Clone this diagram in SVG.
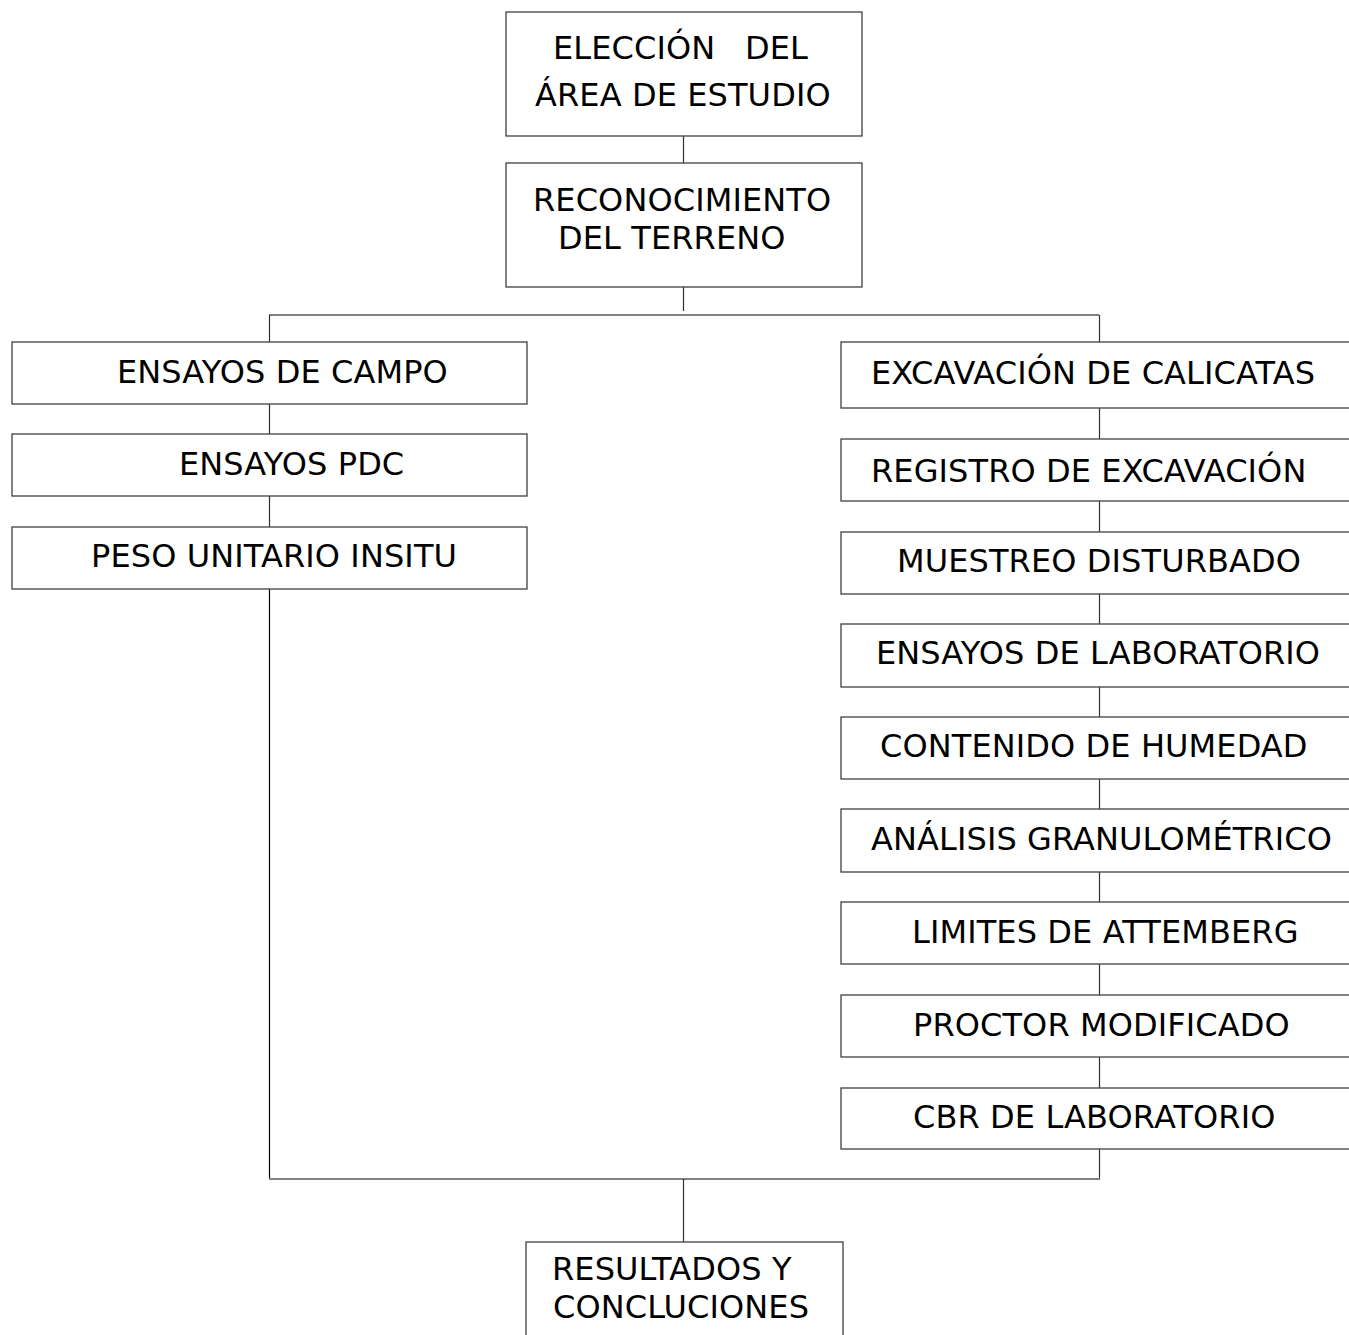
<svg xmlns="http://www.w3.org/2000/svg" width="1349" height="1335" viewBox="0 0 1349 1335">
<style>
.box{fill:#fff;stroke:#404040;stroke-width:1.3}
.t{font-family:"DejaVu Sans","Verdana",sans-serif;font-size:32px;letter-spacing:0.1px;fill:#000}
.v{stroke:#303030;stroke-width:1.2;fill:none}
.h{stroke:#808080;stroke-width:2;fill:none}
</style>
<rect width="1349" height="1335" fill="#fff"/>
<g id="connectors">
<line class="v" x1="683.5" y1="136" x2="683.5" y2="163"/>
<line class="v" x1="683.5" y1="287" x2="683.5" y2="311"/>
<line class="h" x1="269" y1="315" x2="1099" y2="315"/>
<line class="v" x1="269.5" y1="315" x2="269.5" y2="342"/>
<line class="v" x1="1099.5" y1="315" x2="1099.5" y2="342"/>
<line class="v" x1="269.5" y1="404" x2="269.5" y2="434"/>
<line class="v" x1="269.5" y1="496" x2="269.5" y2="527"/>
<line class="v" x1="269.5" y1="589" x2="269.5" y2="1179" style="stroke:#000"/>
<line class="v" x1="1099.5" y1="408" x2="1099.5" y2="439"/>
<line class="v" x1="1099.5" y1="501" x2="1099.5" y2="532"/>
<line class="v" x1="1099.5" y1="594" x2="1099.5" y2="624"/>
<line class="v" x1="1099.5" y1="687" x2="1099.5" y2="717"/>
<line class="v" x1="1099.5" y1="779" x2="1099.5" y2="809"/>
<line class="v" x1="1099.5" y1="872" x2="1099.5" y2="902"/>
<line class="v" x1="1099.5" y1="964" x2="1099.5" y2="995"/>
<line class="v" x1="1099.5" y1="1057" x2="1099.5" y2="1088"/>
<line class="v" x1="1099.5" y1="1149" x2="1099.5" y2="1179"/>
<line class="h" x1="269" y1="1179" x2="1100" y2="1179"/>
<line class="v" x1="683.5" y1="1179" x2="683.5" y2="1242"/>
</g>
<g id="n1"><rect class="box" x="506" y="12" width="356" height="124"/><text class="t" x="553" y="59">ELECCIÓN <tspan x="745">DEL</tspan></text><text class="t" x="535" y="106">ÁREA DE ESTUDIO</text></g>
<g id="n2"><rect class="box" x="506" y="163" width="356" height="124"/><text class="t" x="533" y="211">RECONOCIMIENTO</text><text class="t" x="558" y="249">DEL TERRENO</text></g>
<g id="n3"><rect class="box" x="12" y="342" width="515" height="62"/><text class="t" x="117" y="383">ENSAYOS DE CAMPO</text></g>
<g id="n4"><rect class="box" x="12" y="434" width="515" height="62"/><text class="t" x="179" y="475">ENSAYOS PDC</text></g>
<g id="n5"><rect class="box" x="12" y="527" width="515" height="62"/><text class="t" x="91" y="567">PESO UNITARIO INSITU</text></g>
<g id="n6"><rect class="box" x="841" y="342" width="520" height="66"/><text class="t" x="871" y="384">EXCAVACIÓN DE CALICATAS</text></g>
<g id="n7"><rect class="box" x="841" y="439" width="520" height="62"/><text class="t" x="871" y="482">REGISTRO DE EXCAVACIÓN</text></g>
<g id="n8"><rect class="box" x="841" y="532" width="520" height="62"/><text class="t" x="897" y="572">MUESTREO DISTURBADO</text></g>
<g id="n9"><rect class="box" x="841" y="624" width="520" height="63"/><text class="t" x="876" y="664">ENSAYOS DE LABORATORIO</text></g>
<g id="n10"><rect class="box" x="841" y="717" width="520" height="62"/><text class="t" x="880" y="757">CONTENIDO DE HUMEDAD</text></g>
<g id="n11"><rect class="box" x="841" y="809" width="520" height="63"/><text class="t" x="871" y="850">ANÁLISIS GRANULOMÉTRICO</text></g>
<g id="n12"><rect class="box" x="841" y="902" width="520" height="62"/><text class="t" x="912" y="943">LIMITES DE ATTEMBERG</text></g>
<g id="n13"><rect class="box" x="841" y="995" width="520" height="62"/><text class="t" x="913" y="1036">PROCTOR MODIFICADO</text></g>
<g id="n14"><rect class="box" x="841" y="1088" width="520" height="61"/><text class="t" x="913" y="1128">CBR DE LABORATORIO</text></g>
<g id="n15"><rect class="box" x="526" y="1242" width="317" height="110"/><text class="t" x="552" y="1280">RESULTADOS Y</text><text class="t" x="553" y="1318">CONCLUCIONES</text></g>
</svg>
